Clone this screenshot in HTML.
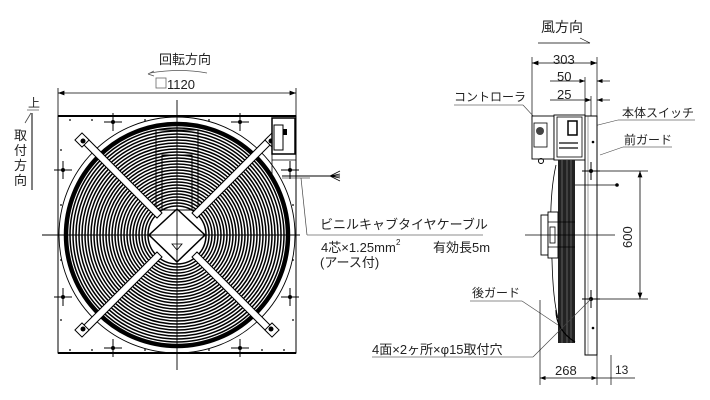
<!DOCTYPE html>
<html><head><meta charset="utf-8"><style>
html,body{margin:0;padding:0;background:#fff;}
svg{display:block;}
text{font-family:"Liberation Sans","Noto Sans CJK JP",sans-serif;fill:#222;}
</style></head><body>
<svg width="710" height="400" viewBox="0 0 710 400" xmlns="http://www.w3.org/2000/svg">
<defs>
<g id="cr"><line x1="-9" y1="0" x2="9" y2="0" stroke="#000" stroke-width="1"/><line x1="0" y1="-9" x2="0" y2="9" stroke="#000" stroke-width="1"/><circle r="2" fill="#000"/></g>
<marker id="ar" markerWidth="8" markerHeight="6" refX="8" refY="3" orient="auto-start-reverse"><path d="M0,0 L8,3 L0,6 Z" fill="#000"/></marker>
</defs>
<text x="159" y="64" font-size="13">回転方向</text>
<path d="M150,73 Q180,68 207,73" fill="none" stroke="#555" stroke-width="0.8"/>
<path d="M148,74 l6,-3 M148,74 l6,2" stroke="#555" stroke-width="0.8"/>
<rect x="156" y="78" width="10" height="10" fill="none" stroke="#666" stroke-width="0.8"/>
<text x="167" y="89" font-size="13">1120</text>
<line x1="58" y1="93" x2="296" y2="93" stroke="#000" stroke-width="0.8" marker-start="url(#ar)" marker-end="url(#ar)"/>
<line x1="58" y1="88" x2="58" y2="116" stroke="#000" stroke-width="0.8"/>
<line x1="296" y1="88" x2="296" y2="116" stroke="#000" stroke-width="0.8"/>
<text x="28" y="107" font-size="12" fill="#666">上</text>
<line x1="27" y1="110" x2="39" y2="110" stroke="#666" stroke-width="0.8"/>
<line x1="31" y1="113" x2="25" y2="123" stroke="#444" stroke-width="0.8"/>
<line x1="32" y1="113" x2="32" y2="190" stroke="#000" stroke-width="1"/>
<text x="14" y="140" font-size="13">取</text>
<text x="14" y="155" font-size="13">付</text>
<text x="14" y="170" font-size="13">方</text>
<text x="14" y="185" font-size="13">向</text>
<rect x="58" y="116" width="238" height="237" fill="#fff" stroke="#000" stroke-width="1"/>
<line x1="58" y1="116" x2="296" y2="116" stroke="#000" stroke-width="2"/>
<line x1="58" y1="353" x2="296" y2="353" stroke="#000" stroke-width="2"/>
<circle cx="177" cy="235" r="118" fill="none" stroke="#000" stroke-width="0.9"/>
<circle cx="177" cy="235" r="111" fill="none" stroke="#000" stroke-width="4.5"/>
<g fill="none" stroke="#000" stroke-width="1.5">
<circle cx="177" cy="235" r="107"/><circle cx="177" cy="235" r="104"/><circle cx="177" cy="235" r="101"/><circle cx="177" cy="235" r="98"/><circle cx="177" cy="235" r="95"/><circle cx="177" cy="235" r="92"/><circle cx="177" cy="235" r="89"/><circle cx="177" cy="235" r="86"/><circle cx="177" cy="235" r="83"/><circle cx="177" cy="235" r="80"/><circle cx="177" cy="235" r="77"/><circle cx="177" cy="235" r="74"/><circle cx="177" cy="235" r="71"/><circle cx="177" cy="235" r="68"/><circle cx="177" cy="235" r="65"/><circle cx="177" cy="235" r="62"/><circle cx="177" cy="235" r="59"/><circle cx="177" cy="235" r="56"/><circle cx="177" cy="235" r="53"/><circle cx="177" cy="235" r="50"/><circle cx="177" cy="235" r="47"/><circle cx="177" cy="235" r="44"/><circle cx="177" cy="235" r="41"/><circle cx="177" cy="235" r="38"/><circle cx="177" cy="235" r="35"/><circle cx="177" cy="235" r="32"/><circle cx="177" cy="235" r="29"/>
</g>
<g fill="none" stroke="#000" stroke-width="1">
<rect x="156" y="130" width="42" height="80"/>
<rect x="162" y="155" width="30" height="55"/>
</g>
<g stroke="#000" stroke-width="1" fill="#fff">
<polygon points="81,142 86,137 162,213 157,218"/>
<polygon points="273,142 268,137 192,213 197,218"/>
<polygon points="81,328 86,333 162,257 157,252"/>
<polygon points="273,328 268,333 192,257 197,252"/>
<rect x="77" y="135" width="10" height="10" transform="rotate(45 82 140)"/>
<rect x="267" y="135" width="10" height="10" transform="rotate(45 272 140)"/>
<rect x="77" y="325" width="10" height="10" transform="rotate(45 82 330)"/>
<rect x="267" y="325" width="10" height="10" transform="rotate(45 272 330)"/>
</g>
<circle cx="83" cy="141" r="2.5" fill="#000"/><circle cx="83" cy="329" r="2.5" fill="#000"/>
<circle cx="271" cy="141" r="2.5" fill="#000"/><circle cx="271" cy="329" r="2.5" fill="#000"/>
<polygon points="177,209 205,235 177,262 149,235" fill="#fff" stroke="#000" stroke-width="1.5"/>
<polygon points="172,244 182,244 177,250" fill="#fff" stroke="#000" stroke-width="0.8"/>
<line x1="42" y1="235" x2="300" y2="235" stroke="#000" stroke-width="0.9"/>
<line x1="177" y1="100" x2="177" y2="370" stroke="#000" stroke-width="0.9"/>
<use href="#cr" x="113" y="122"/><use href="#cr" x="240" y="122"/>
<use href="#cr" x="63" y="170"/><use href="#cr" x="290" y="170"/>
<use href="#cr" x="63" y="297"/><use href="#cr" x="290" y="297"/>
<use href="#cr" x="113" y="348"/><use href="#cr" x="240" y="348"/>
<g fill="#000">
<circle cx="70" cy="120" r="0.9"/><circle cx="92" cy="120" r="0.9"/><circle cx="145" cy="120" r="0.9"/><circle cx="209" cy="120" r="0.9"/>
<circle cx="70" cy="350" r="0.9"/><circle cx="92" cy="350" r="0.9"/><circle cx="145" cy="350" r="0.9"/><circle cx="209" cy="350" r="0.9"/><circle cx="262" cy="350" r="0.9"/><circle cx="284" cy="350" r="0.9"/>
<circle cx="61" cy="150" r="0.9"/><circle cx="61" cy="205" r="0.9"/><circle cx="61" cy="260" r="0.9"/><circle cx="61" cy="320" r="0.9"/>
<circle cx="293" cy="205" r="0.9"/><circle cx="293" cy="260" r="0.9"/><circle cx="293" cy="320" r="0.9"/>
</g>
<rect x="272" y="118" width="23" height="36" fill="#fff" stroke="#000" stroke-width="1.5"/>
<rect x="274" y="125" width="9" height="25" fill="#fff" stroke="#000" stroke-width="1"/>
<rect x="283" y="129" width="4" height="6" fill="#000"/>
<line x1="272" y1="160" x2="296" y2="160" stroke="#000" stroke-width="0.8"/>
<line x1="272" y1="154" x2="272" y2="175" stroke="#000" stroke-width="0.8"/>
<line x1="282" y1="176" x2="340" y2="176" stroke="#000" stroke-width="1"/>
<line x1="282" y1="178" x2="310" y2="178" stroke="#000" stroke-width="0.6"/>
<path d="M330,176 L340,171 M330,176 L340,174 M330,176 L340,178 M330,176 L340,181" stroke="#000" stroke-width="0.7"/>
<line x1="301" y1="178" x2="307" y2="235" stroke="#444" stroke-width="0.7"/>
<line x1="307" y1="235" x2="483" y2="235" stroke="#666" stroke-width="0.7"/>
<text x="320" y="229" font-size="13" fill="#555">ビニルキャブタイヤケーブル</text>
<text x="321" y="252" font-size="13">4芯×1.25mm</text>
<text x="396" y="245" font-size="8">2</text>
<text x="433" y="252" font-size="13">有効長5m</text>
<text x="320" y="267" font-size="13">(アース付)</text>
<text x="541" y="32" font-size="14">風方向</text>
<line x1="538" y1="43" x2="590" y2="43" stroke="#000" stroke-width="0.8"/>
<line x1="580" y1="38" x2="590" y2="43" stroke="#000" stroke-width="0.6"/>
<text x="553" y="64" font-size="13">303</text>
<line x1="532" y1="63" x2="597" y2="63" stroke="#000" stroke-width="0.8" marker-start="url(#ar)" marker-end="url(#ar)"/>
<line x1="532" y1="57" x2="532" y2="120" stroke="#000" stroke-width="0.7"/>
<line x1="597" y1="57" x2="597" y2="385" stroke="#000" stroke-width="0.7"/>
<text x="557" y="81" font-size="13">50</text>
<line x1="550" y1="81" x2="585" y2="81" stroke="#000" stroke-width="0.7" marker-end="url(#ar)"/>
<line x1="597" y1="81" x2="610" y2="81" stroke="#000" stroke-width="0.7" marker-start="url(#ar)"/>
<line x1="585" y1="77" x2="585" y2="116" stroke="#000" stroke-width="0.7"/>
<text x="557" y="99" font-size="13">25</text>
<line x1="550" y1="100" x2="591" y2="100" stroke="#000" stroke-width="0.7" marker-end="url(#ar)"/>
<line x1="597" y1="100" x2="610" y2="100" stroke="#000" stroke-width="0.7" marker-start="url(#ar)"/>
<line x1="591" y1="96" x2="591" y2="116" stroke="#000" stroke-width="0.7"/>
<text x="454" y="101" font-size="12">コントローラ</text>
<line x1="454" y1="105" x2="523" y2="105" stroke="#666" stroke-width="0.7"/>
<line x1="523" y1="105" x2="535" y2="118" stroke="#444" stroke-width="0.6"/>
<text x="622" y="117" font-size="12">本体スイッチ</text>
<line x1="618" y1="120" x2="695" y2="120" stroke="#666" stroke-width="0.7"/>
<line x1="618" y1="120" x2="578" y2="130" stroke="#444" stroke-width="0.6"/>
<text x="624" y="144" font-size="12">前ガード</text>
<line x1="623" y1="147" x2="672" y2="147" stroke="#666" stroke-width="0.7"/>
<line x1="623" y1="147" x2="600" y2="155" stroke="#444" stroke-width="0.6"/>
<rect x="532" y="116" width="22" height="43" fill="#fff" stroke="#000" stroke-width="0.9"/>
<rect x="534" y="123" width="13" height="24" fill="#fff" stroke="#000" stroke-width="0.8"/>
<circle cx="540" cy="131" r="4" fill="#444"/>
<rect x="554" y="115" width="31" height="45" fill="#fff" stroke="#000" stroke-width="0.9"/>
<rect x="557" y="117" width="25" height="40" fill="#fff" stroke="#000" stroke-width="0.8"/>
<rect x="568" y="121" width="9" height="14" fill="#fff" stroke="#000" stroke-width="1.5"/>
<line x1="559" y1="143" x2="578" y2="143" stroke="#666" stroke-width="2"/>
<line x1="559" y1="148" x2="578" y2="148" stroke="#666" stroke-width="2"/>
<circle cx="541" cy="161" r="2.5" fill="none" stroke="#000"/>
<rect x="558" y="160" width="17" height="183" fill="#222"/>
<line x1="562" y1="160" x2="562" y2="343" stroke="#888" stroke-width="0.6"/>
<line x1="567" y1="160" x2="567" y2="343" stroke="#888" stroke-width="0.6"/>
<line x1="571" y1="160" x2="571" y2="343" stroke="#888" stroke-width="0.6"/>
<path d="M556,165 Q548,200 552,260 Q553,300 558,318" fill="none" stroke="#000" stroke-width="0.8"/>
<path d="M556,310 Q556,330 575,342" fill="none" stroke="#000" stroke-width="1.2"/>
<rect x="541" y="215" width="7" height="40" fill="#fff" stroke="#000" stroke-width="0.9"/>
<rect x="548" y="212" width="10" height="46" fill="#fff" stroke="#000" stroke-width="0.9"/>
<rect x="550" y="227" width="5" height="16" fill="#fff" stroke="#000" stroke-width="0.8"/>
<line x1="548" y1="222" x2="575" y2="222" stroke="#000" stroke-width="0.8"/>
<line x1="548" y1="247" x2="575" y2="247" stroke="#000" stroke-width="0.8"/>
<rect x="585" y="116" width="12" height="239" fill="#fff" stroke="#000" stroke-width="1"/>
<line x1="588" y1="116" x2="588" y2="355" stroke="#444" stroke-width="0.5"/>
<line x1="575" y1="185" x2="617" y2="185" stroke="#000" stroke-width="0.8"/>
<circle cx="617" cy="185" r="1.8" fill="#000"/>
<line x1="525" y1="235" x2="615" y2="235" stroke="#000" stroke-width="0.8"/>
<use href="#cr" x="591" y="171"/><use href="#cr" x="591" y="299"/>
<circle cx="593" cy="142" r="1.3" fill="#000"/><circle cx="593" cy="328" r="1.3" fill="#000"/>
<line x1="597" y1="171" x2="648" y2="171" stroke="#000" stroke-width="0.7"/>
<line x1="597" y1="299" x2="648" y2="299" stroke="#000" stroke-width="0.7"/>
<line x1="640" y1="171" x2="640" y2="299" stroke="#000" stroke-width="0.8" marker-start="url(#ar)" marker-end="url(#ar)"/>
<text x="0" y="0" font-size="13" transform="translate(632,248) rotate(-90)">600</text>
<text x="472" y="297" font-size="12">後ガード</text>
<line x1="470" y1="301" x2="522" y2="301" stroke="#666" stroke-width="0.7"/>
<line x1="522" y1="301" x2="558" y2="325" stroke="#444" stroke-width="0.6"/>
<text x="372" y="354" font-size="13">4面×2ヶ所×φ15取付穴</text>
<line x1="372" y1="357" x2="533" y2="357" stroke="#666" stroke-width="0.7"/>
<line x1="533" y1="357" x2="591" y2="299" stroke="#444" stroke-width="0.6"/>
<line x1="540" y1="300" x2="540" y2="385" stroke="#000" stroke-width="0.7"/>
<line x1="611" y1="355" x2="611" y2="385" stroke="#000" stroke-width="0.7"/>
<line x1="540" y1="378" x2="597" y2="378" stroke="#000" stroke-width="0.7" marker-start="url(#ar)" marker-end="url(#ar)"/>
<line x1="597" y1="378" x2="635" y2="378" stroke="#000" stroke-width="0.7"/>
<text x="555" y="375" font-size="13">268</text>
<text x="615" y="374" font-size="12" fill="#444">13</text>
</svg>
</body></html>
